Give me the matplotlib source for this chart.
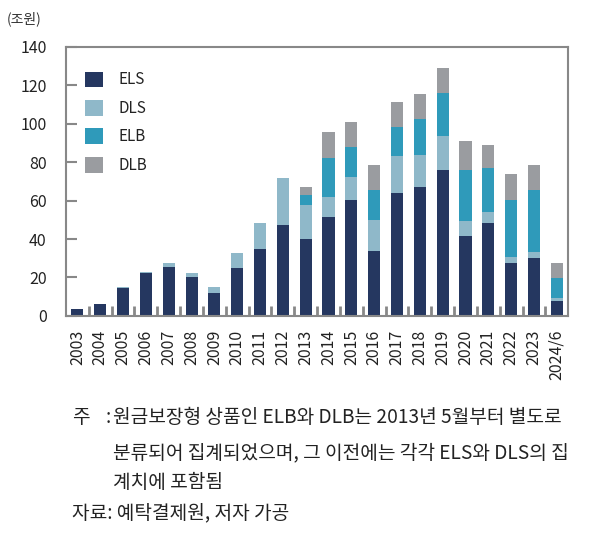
import matplotlib
matplotlib.use("Agg")
import matplotlib.pyplot as plt
import numpy as np

plt.rcParams['font.family'] = ['Noto Sans CJK KR', 'DejaVu Sans']

years = ["2003", "2004", "2005", "2006", "2007", "2008", "2009", "2010", "2011", "2012",
         "2013", "2014", "2015", "2016", "2017", "2018", "2019", "2020", "2021", "2022",
         "2023", "2024/6"]
els = [3.8, 6.3, 14.3, 22.1, 25.7, 20.5, 11.7, 24.7, 34.6, 47.1,
       39.8, 51.3, 60.5, 33.9, 64.2, 67.3, 75.7, 41.7, 48.5, 27.7, 30.3, 7.8]
dls = [0.0, 0.0, 0.5, 1.0, 1.6, 1.6, 3.1, 8.3, 13.6, 24.6,
       17.8, 10.4, 11.7, 16.2, 18.8, 16.7, 17.7, 7.9, 5.8, 3.1, 3.1, 1.6]
elb = [0, 0, 0, 0, 0, 0, 0, 0, 0, 0,
       5.5, 20.4, 15.6, 15.3, 15.6, 18.3, 22.9, 26.6, 22.9, 29.7, 32.3, 10.4]
dlb = [0, 0, 0, 0, 0, 0, 0, 0, 0, 0,
       3.9, 13.4, 12.9, 13.4, 12.5, 13.0, 12.6, 15.1, 12.0, 13.6, 13.1, 7.9]
series_names = ["ELS", "DLS", "ELB", "DLB"]
colors = ["#253760", "#8fb8c9", "#2f9aba", "#9a9ca0"]

fig = plt.figure(figsize=(6, 5.4), dpi=100)
ax = fig.add_axes([0.11, 0.415, 0.837, 0.498])

x = np.arange(len(years))
bottom = np.zeros(len(years))
for name, vals, c in zip(series_names, [els, dls, elb, dlb], colors):
    v = np.array(vals, dtype=float)
    ax.bar(x, v, width=0.53, bottom=bottom, color=c, label=name, zorder=2)
    bottom += v

ax.set_xlim(-0.5, len(years) - 0.5)
ax.set_ylim(0, 140)
ax.set_yticks(np.arange(0, 141, 20))
ax.set_xticks(x)
ax.set_xticklabels(years, rotation=90, fontsize=11.5, color="#222222")
ax.tick_params(axis='x', length=0, pad=10)
ax.set_xticks(np.arange(0.5, len(years) - 1, 1), minor=True)
ax.tick_params(axis='x', which='minor', direction='in', length=7, width=2, color="#888888")
ax.tick_params(axis='y', direction='in', length=8, width=1.5, color="#888888",
               labelsize=11.5, labelcolor="#222222", pad=14)
for s in ax.spines.values():
    s.set_color("#888888")
    s.set_linewidth(1.5)

leg = ax.legend(loc='upper left', bbox_to_anchor=(0.01, 0.96), frameon=False,
                fontsize=11, handlelength=1.2, handleheight=1.2, labelspacing=0.75,
                handletextpad=1.0)
for t in leg.get_texts():
    t.set_color("#222222")

fig.text(0.012, 0.965, "(조원)", fontsize=10, color="#333333", va='center')

fs = 13.8
fig.text(0.12, 0.226, "주", fontsize=fs, va='center', color="#222222")
fig.text(0.176, 0.226, ":", fontsize=fs, va='center', color="#222222")
fig.text(0.188, 0.226, "원금보장형 상품인 ELB와 DLB는 2013년 5월부터 별도로", fontsize=fs, va='center', color="#222222")
fig.text(0.188, 0.161, "분류되어 집계되었으며, 그 이전에는 각각 ELS와 DLS의 집", fontsize=fs, va='center', color="#222222")
fig.text(0.188, 0.106, "계치에 포함됨", fontsize=fs, va='center', color="#222222")
fig.text(0.12, 0.050, "자료: 예탁결제원, 저자 가공", fontsize=fs, va='center', color="#222222")

fig.savefig("out.png", dpi=100)
